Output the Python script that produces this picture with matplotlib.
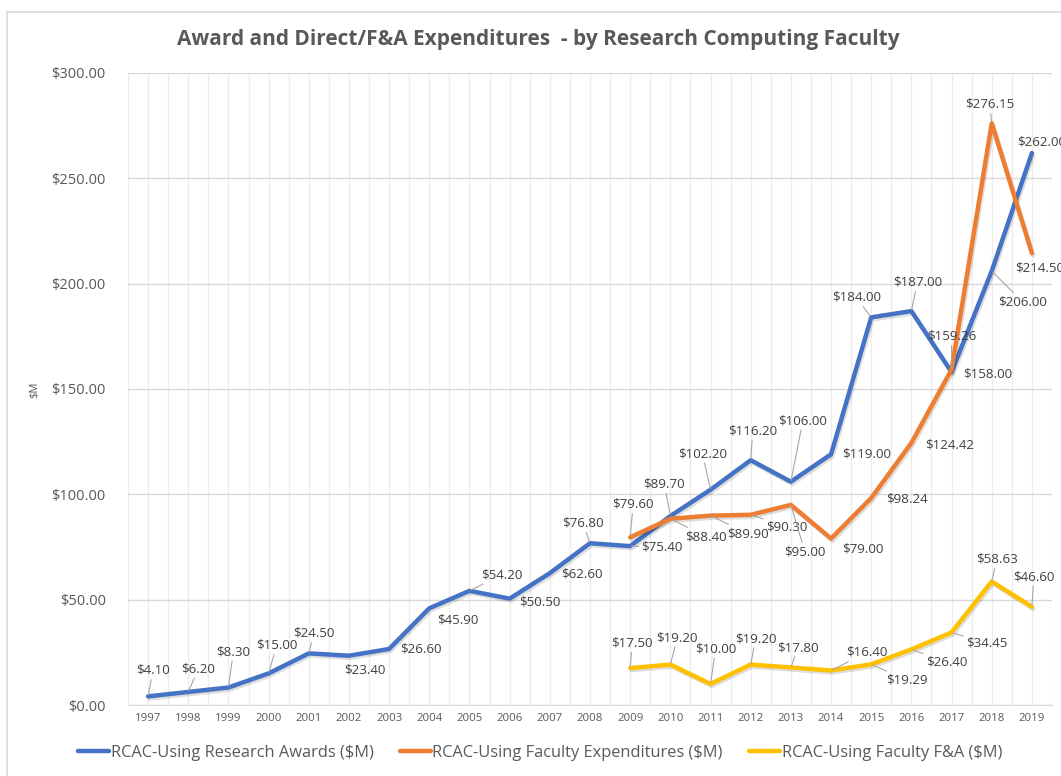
import matplotlib
matplotlib.use("Agg")
import matplotlib.pyplot as plt
import matplotlib.patheffects as pe
from matplotlib.patches import Rectangle

years = list(range(1997, 2020))
awards = [4.10, 6.20, 8.30, 15.00, 24.50, 23.40, 26.60, 45.90, 54.20, 50.50, 62.60, 76.80,
          75.40, 89.70, 102.20, 116.20, 106.00, 119.00, 184.00, 187.00, 158.00, 206.00, 262.00]
exp_years = list(range(2009, 2020))
expenditures = [79.60, 88.40, 89.90, 90.30, 95.00, 79.00, 98.24, 124.42, 159.26, 276.15, 214.50]
fa = [17.50, 19.20, 10.00, 19.20, 17.80, 16.40, 19.29, 26.40, 34.45, 58.63, 46.60]

series_names = ["RCAC-Using Research Awards ($M)",
                "RCAC-Using Faculty Expenditures ($M)",
                "RCAC-Using Faculty F&A ($M)"]
title = "Award and Direct/F&A Expenditures  - by Research Computing Faculty"
yticks = [0, 50, 100, 150, 200, 250, 300]

# label offsets in pixels (dx right, dy down), leader flag
awards_off = [(5, -26, 1), (10, -23, 1), (5, -36, 1), (8, -28, 1), (5, -20, 1), (16, 14, 0),
              (32, 0, 0), (29, 12, 0), (32, -16, 1), (30, 3, 0), (32, 1, 0), (-7, -20, 1),
              (32, 1, 1), (-6, -32, 1), (-8, -36, 1), (2, -29, 1), (12, -61, 1), (36, 0, 0),
              (-15, -20, 1), (6, -29, 1), (36, 2, 0), (31, 31, 1), (10, -11, 0)]
exp_off = [(3, -33, 1), (36, 18, 1), (37, 18, 1), (36, 12, 1), (14, 47, 1), (32, 10, 0),
           (36, 1, 0), (38, 2, 0), (0, -33, 1), (-2, -19, 1), (8, 15, 0)]
fa_off = [(2, -25, 1), (7, -27, 1), (5, -35, 1), (5, -26, 1), (7, -20, 1), (36, -18, 1),
          (36, 16, 1), (35, 13, 1), (35, 11, 1), (5, -22, 1), (2, -30, 1)]

FONT = ["Open Sans", "DejaVu Sans"]
plt.rcParams['font.family'] = FONT

W, H = 1061, 776
fig = plt.figure(figsize=(W / 100, H / 100), dpi=100)
ax = fig.add_axes([128 / W, 1 - 705 / H, (1052 - 128) / W, (705 - 73) / H])

# chart border
fig.patches.append(Rectangle((7 / W, -0.1), 1.2, 1 - 12 / H + 0.1, transform=fig.transFigure,
                             fill=False, edgecolor="#d9d9d9", linewidth=1.2))

colors = ["#4472C4", "#ED7D31", "#FFC000"]
shadow = [pe.SimpleLineShadow(offset=(1, -1.5), shadow_color="black", alpha=0.13), pe.Normal()]

x_all = [y - 1997 for y in years]
x_exp = [y - 1997 for y in exp_years]
ax.plot(x_all, awards, color=colors[0], lw=3.2, solid_capstyle="round", path_effects=shadow,
        label=series_names[0], zorder=3)
ax.plot(x_exp, expenditures, color=colors[1], lw=3.2, solid_capstyle="round", path_effects=shadow,
        label=series_names[1], zorder=3)
ax.plot(x_exp, fa, color=colors[2], lw=3.2, solid_capstyle="round", path_effects=shadow,
        label=series_names[2], zorder=3)

def add_labels(xs, vals, offs):
    for x, v, (dx, dy, lead) in zip(xs, vals, offs):
        kw = {}
        if lead:
            kw["arrowprops"] = dict(arrowstyle="-", color="#a6a6a6", lw=0.8,
                                    shrinkA=0, shrinkB=1)
        ax.annotate(f"${v:,.2f}", xy=(x, v), xytext=(dx, -dy), textcoords="offset pixels",
                    ha="center", va="center", fontsize=9.6, color="#404040",
                    annotation_clip=False, zorder=4, **kw)

add_labels(x_all, awards, awards_off)
add_labels(x_exp, expenditures, exp_off)
add_labels(x_exp, fa, fa_off)

ax.set_xlim(-0.5, len(years) - 0.5)
ax.set_ylim(0, 300)
ax.set_xticks(x_all)
ax.set_xticklabels([str(y) for y in years], fontsize=8.2, color="#595959")
ax.set_xticks([i + 0.5 for i in range(-1, len(years))], minor=True)
ax.set_yticks(yticks)
ax.set_yticklabels([f"${t:,.2f}" for t in yticks], fontsize=10.5, color="#595959")
ax.tick_params(axis="both", which="both", length=0)
ax.tick_params(axis="y", pad=16)
ax.tick_params(axis="x", pad=6)
ax.grid(True, axis="x", which="both", color="#ececec", lw=1)
ax.grid(True, axis="y", which="major", color="#d9d9d9", lw=1)
ax.set_axisbelow(True)
for s in ["top", "right", "left"]:
    ax.spines[s].set_visible(False)
ax.spines["bottom"].set_color("#d9d9d9")

fig.text(35 / W, 1 - 390 / H, "$M", rotation=90, ha="center", va="center",
         fontsize=8, color="#595959")
fig.text(538 / W, 1 - 40 / H, title, ha="center", va="center", fontsize=15,
         fontweight="bold", color="#595959")

leg = fig.legend(loc="center", bbox_to_anchor=(540 / W, 1 - 753 / H), ncol=3, frameon=False,
                 fontsize=11.8, handlelength=1.9, columnspacing=1.6, handletextpad=0.1)
for t in leg.get_texts():
    t.set_color("#595959")
for h in leg.get_lines():
    h.set_path_effects([])

fig.savefig("out.png", dpi=100)
